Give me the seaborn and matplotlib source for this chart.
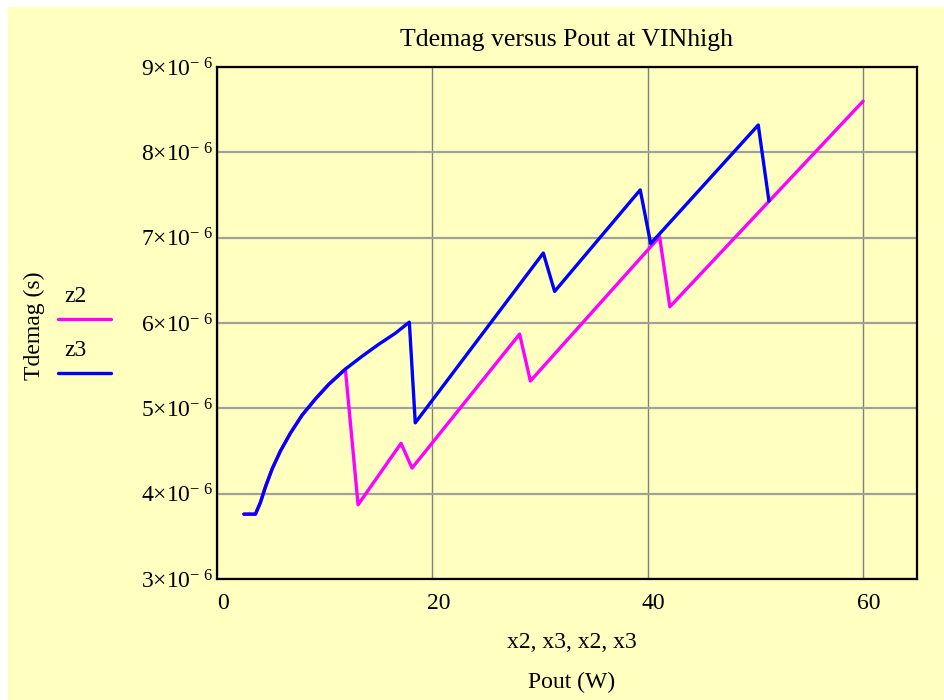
import matplotlib
matplotlib.use("Agg")
import matplotlib.pyplot as plt
import seaborn as sns
import pandas as pd
from matplotlib.lines import Line2D
from matplotlib.patches import Rectangle
from matplotlib.transforms import ScaledTranslation

# ---- data (Pout in W, Tdemag in microseconds) ----
x2 = [2.5, 3.57, 4.04, 4.5, 5.12, 5.89, 6.82, 7.9, 9.14, 10.37, 11.92,
      13.1, 17.09, 18.11, 28.1, 29.1, 41.1, 42.05, 60.0]
z2_us = [3.76, 3.76, 3.90, 4.08, 4.29, 4.50, 4.71, 4.92, 5.11, 5.28, 5.46,
         3.87, 4.59, 4.30, 5.87, 5.32, 7.01, 6.19, 8.60]

x3 = [2.5, 3.57, 4.04, 4.5, 5.12, 5.89, 6.82, 7.9, 9.14, 10.37, 11.92,
      13.47, 15.01, 16.56, 17.86, 18.41, 30.3, 31.35, 39.3, 40.27, 50.26, 51.25]
z3_us = [3.76, 3.76, 3.90, 4.08, 4.29, 4.50, 4.71, 4.92, 5.11, 5.28, 5.46,
         5.61, 5.75, 5.88, 6.01, 4.83, 6.82, 6.37, 7.56, 6.93, 8.32, 7.43]

x_ticks = [0, 20, 40, 60]
y_ticks_mant = [3, 4, 5, 6, 7, 8, 9]

title = "Tdemag versus Pout at VINhigh"
xlabel1 = "x2, x3, x2, x3"
xlabel2 = "Pout (W)"
ylabel = "Tdemag (s)"
names = ["z2", "z3"]
colors = ["#FF00FF", "#0000FF"]

df2 = pd.DataFrame({"x": x2, "y": [v * 1e-6 for v in z2_us]})
df3 = pd.DataFrame({"x": x3, "y": [v * 1e-6 for v in z3_us]})

sns.set_theme(style="white")
plt.rcParams["font.family"] = ["Liberation Serif", "DejaVu Serif"]
plt.rcParams["mathtext.fontset"] = "custom"
plt.rcParams["mathtext.rm"] = "Liberation Serif"
plt.rcParams["mathtext.it"] = "Liberation Serif:italic"
plt.rcParams["text.color"] = "black"
plt.rcParams["xtick.color"] = "black"
plt.rcParams["ytick.color"] = "black"

BG = "#FFFFC0"
W, H = 944, 700
FS = 17
fig = plt.figure(figsize=(W / 100, H / 100), dpi=100, facecolor="white")
bgrect = Rectangle((8 / W, 0), 1 - 8 / W, 1 - 7 / H, transform=fig.transFigure,
                   facecolor=BG, edgecolor="none", zorder=-10)
fig.add_artist(bgrect)

ax = fig.add_axes([217 / W, 1 - 579 / H, (917 - 217) / W, (579 - 67) / H])
ax.set_zorder(1)
ax.set_facecolor(BG)

sns.lineplot(data=df2, x="x", y="y", sort=False, estimator=None, color=colors[0],
             linewidth=2.4, ax=ax, zorder=3)
sns.lineplot(data=df3, x="x", y="y", sort=False, estimator=None, color=colors[1],
             linewidth=2.4, ax=ax, zorder=4)

ax.set_xlim(0, 65)
ax.set_ylim(3e-6, 9e-6)
ax.set_xticks(x_ticks)
ax.set_xticklabels([str(t) for t in x_ticks], fontsize=FS)
ax.set_yticks([m * 1e-6 for m in y_ticks_mant])
ax.set_yticklabels([f"{m}×10$^{{-\\ 6}}$" for m in y_ticks_mant], fontsize=FS)
ax.tick_params(axis="both", length=0, colors="black", labelcolor="black")
ax.tick_params(axis="x", pad=10)
ax.tick_params(axis="y", pad=3)
ax.set_xlabel("")
ax.set_ylabel("")
shift = ScaledTranslation(6 / 100, 0, fig.dpi_scale_trans)
for lbl in ax.get_xticklabels():
    lbl.set_transform(lbl.get_transform() + shift)

ax.xaxis.grid(True, color="#808080", linewidth=1.0)
ax.yaxis.grid(True, color="#A0A0A0", linewidth=1.6)
ax.set_axisbelow(True)
for s in ax.spines.values():
    s.set_color("black")
    s.set_linewidth(1.6)
    s.set_visible(True)

fig.text(567 / W, 1 - 40 / H, title, ha="center", va="center", fontsize=18.5, color="black")
fig.text(572 / W, 1 - 642 / H, xlabel1, ha="center", va="center", fontsize=FS, color="black")
fig.text(572 / W, 1 - 682 / H, xlabel2, ha="center", va="center", fontsize=FS, color="black")
fig.text(34 / W, 1 - 326 / H, ylabel, ha="center", va="center", rotation=90, fontsize=FS,
         color="black")

# legend (Mathcad style: label above sample line)
for i, (nm, col) in enumerate(zip(names, colors)):
    ty = 297 + i * 54
    ly = 319 + i * 54
    fig.text(64 / W, 1 - ty / H, nm, ha="left", va="center", fontsize=FS, color="black")
    fig.add_artist(Line2D([58 / W, 111 / W], [1 - ly / H, 1 - ly / H], color=col,
                          linewidth=2.4, transform=fig.transFigure))

fig.savefig("out.png", dpi=100, facecolor=fig.get_facecolor())
